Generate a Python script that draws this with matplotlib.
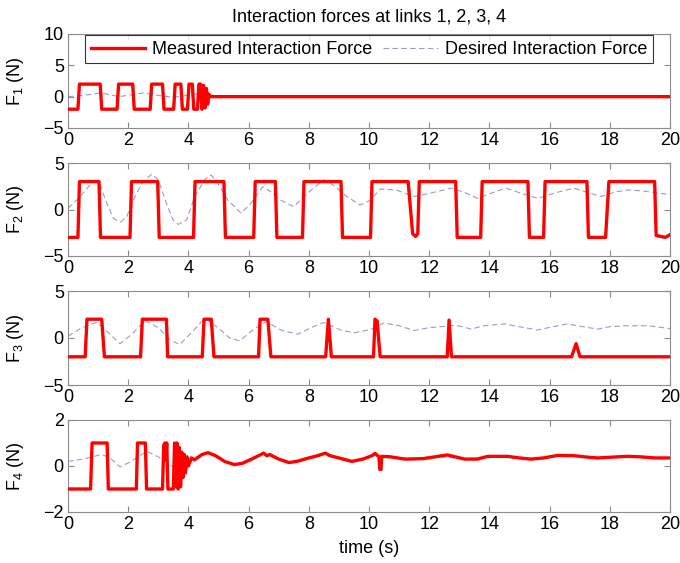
import matplotlib
matplotlib.use("Agg")
import matplotlib.pyplot as plt

plt.rcParams['font.family'] = ['Liberation Sans', 'DejaVu Sans']
plt.rcParams['mathtext.default'] = 'regular'

# ---------------- data ----------------
title = "Interaction forces at links 1, 2, 3, 4"
xlabel = "time (s)"
ylabels = [r"F$_1$ (N)", r"F$_2$ (N)", r"F$_3$ (N)", r"F$_4$ (N)"]
legend_labels = ["Measured Interaction Force", "Desired Interaction Force"]
xticks = [0, 2, 4, 6, 8, 10, 12, 14, 16, 18, 20]
yticks = [[-5, 0, 5, 10], [-5, 0, 5], [-5, 0, 5], [-2, 0, 2]]
ylims = [(-5, 10), (-5, 5), (-5, 5), (-2, 2)]

# Link 1
f1_meas_t = [0, 0.33, 0.38, 1.07, 1.12, 1.63, 1.68, 2.15, 2.2, 2.73, 2.78, 3.14, 3.19,
             3.51, 3.56, 3.75, 3.8, 3.97, 4.02, 4.13, 4.18, 4.3, 4.35, 4.4, 4.45,
             4.5, 4.55, 4.6, 4.64, 4.68, 4.72, 20]
f1_meas_v = [-2, -2, 2, 2, -2, -2, 2, 2, -2, -2, 2, 2, -2,
             -2, 2, 2, -2, -2, 2, 2, -2, -2, 2, 2, -2,
             1.8, -1.8, 1.3, -1.2, 0.4, 0, 0]
f1_des_t = [0, 0.5, 1.1, 1.7, 2.5, 3.0, 3.5, 4.4, 5.0, 5.5, 20]
f1_des_v = [0.0, 0.2, 0.6, 0.0, 0.6, 0.2, -0.1, 0.5, 0.1, 0.0, 0.0]

# Link 2
f2_meas_t = [0, 0.33, 0.38, 1.03, 1.08, 2.06, 2.11, 2.98, 3.03, 4.17, 4.22, 5.18, 5.23,
             6.17, 6.22, 6.89, 6.94, 7.79, 7.84, 9.07, 9.12, 10.05, 10.1, 11.3, 11.45,
             11.55, 11.62, 11.67, 12.88, 12.93, 13.71, 13.76, 15.28, 15.33, 15.8, 15.85,
             17.24, 17.29, 17.86, 17.97, 19.49, 19.54, 19.85, 20]
f2_meas_v = [-3, -3, 3, 3, -3, -3, 3, 3, -3, -3, 3, 3, -3,
             -3, 3, 3, -3, -3, 3, 3, -3, -3, 3, 3, -2.6,
             -2.9, -2.6, 3, 3, -3, -3, 3, 3, -3, -3, 3,
             3, -3, -3, 3, 3, -2.8, -3, -2.7]
f2_des_t = [0.0, 0.35, 0.68, 0.9, 1.07, 1.29, 1.51, 1.73, 1.95, 2.17, 2.45, 2.78, 3.0,
            3.27, 3.49, 3.66, 3.94, 4.21, 4.54, 4.76, 4.98, 5.31, 5.75, 6.08, 6.47,
            6.74, 7.07, 7.5, 7.94, 8.5, 8.83, 9.27, 9.71, 10.05, 10.37, 10.9, 11.5,
            12.1, 12.73, 13.2, 13.6, 14.1, 14.55, 15.0, 15.6, 16.2, 16.8, 17.3, 17.7,
            18.2, 18.6, 19.1, 19.5, 20]
f2_des_v = [0.13, 1.2, 2.45, 3.1, 2.6, 0.67, -0.95, -1.38, -0.77, 1.0, 2.8, 3.8, 3.2,
            0.67, -1.13, -1.6, -1.13, 1.38, 3.2, 3.7, 2.8, 1.0, -0.4, 0.67, 2.45,
            1.9, 1.0, 0.3, 1.7, 3.2, 2.6, 1.38, 0.48, 1.0, 2.2, 2.1, 1.4,
            1.8, 2.3, 1.8, 1.2, 1.8, 2.3, 1.8, 1.2, 1.8, 2.3, 1.8, 1.4,
            1.9, 2.1, 2.0, 1.8, 1.6]

# Link 3
f3_meas_t = [0, 0.57, 0.63, 1.12, 1.21, 2.41, 2.47, 3.27, 3.31, 4.46, 4.52, 4.76, 4.85,
             6.33, 6.38, 6.64, 6.74, 8.56, 8.65, 8.75, 10.15, 10.2, 10.27, 10.37,
             12.6, 12.66, 12.74, 16.73, 16.88, 17.01, 20]
f3_meas_v = [-2, -2, 2, 2, -2, -2, 2, 2, -2, -2, 2, 2, -2,
             -2, 2, 2, -2, -2, 2.0, -2, -2, 2.0, 1.8, -2,
             -2, 1.9, -2, -2, -0.6, -2, -2]
f3_des_t = [0.0, 0.46, 0.96, 1.34, 1.73, 2.12, 2.56, 3.0, 3.38, 3.71, 4.1, 4.54, 4.98,
            5.37, 5.7, 6.14, 6.58, 7.07, 7.63, 8.07, 8.5, 9.06, 9.5, 10.05, 10.5, 11.0,
            11.5, 12.0, 12.9, 13.4, 13.8, 14.5, 15.0, 15.6, 16.1, 16.6, 17.1, 17.6,
            18.0, 18.5, 19.3, 20]
f3_des_v = [0.19, 1.1, 1.67, 0.56, -0.6, 0.4, 1.85, 1.1, -0.18, -0.7, 0.56, 2.1, 1.1,
            0.0, -0.3, 0.85, 1.75, 0.85, 0.4, 1.1, 1.65, 0.85, 0.55, 0.9, 1.6, 1.3,
            0.8, 1.1, 1.35, 0.95, 1.3, 1.5, 1.2, 0.85, 1.2, 1.5, 1.2, 0.95,
            1.2, 1.3, 1.3, 1.0]

# Link 4
f4_meas_t = [0, 0.75, 0.8, 1.3, 1.34, 2.27, 2.31, 2.57, 2.61, 3.14, 3.18, 3.22, 3.25, 3.28,
             3.32, 3.5, 3.54, 3.58, 3.62, 3.66, 3.7, 3.74, 3.78, 3.82, 3.86, 3.9, 3.95,
             4.0, 4.1, 4.2, 4.45, 4.65, 4.9, 5.2, 5.53, 5.8, 6.1, 6.41, 6.5, 6.6, 6.7,
             7.0, 7.34, 7.6, 8.0, 8.3, 8.55, 8.7, 9.0, 9.43, 9.8, 10.1, 10.2, 10.33,
             10.36, 10.4, 10.42, 10.7, 11.2, 11.8, 12.3, 12.6, 12.8, 13.18, 13.6, 13.95,
             14.6, 15.0, 15.38, 15.8, 16.26, 16.8, 17.3, 17.6, 18.0, 18.58, 19.0, 19.5, 20]
f4_meas_v = [-1, -1, 1, 1, -1, -1, 1, 1, -1, -1, 0.9, 1.0, 0.3, 1.0,
             -1, -1, 1.0, -0.9, 1.0, -1, 0.8, -0.9, 0.6, -0.5, 0.5, -0.3, 0.4,
             0.0, 0.35, 0.27, 0.5, 0.58, 0.45, 0.2, 0.06, 0.12, 0.3, 0.5, 0.56, 0.45, 0.5,
             0.3, 0.15, 0.2, 0.35, 0.45, 0.56, 0.45, 0.35, 0.2, 0.3, 0.45, 0.55, 0.4,
             -0.15, -0.15, 0.42, 0.4, 0.3, 0.32, 0.42, 0.48, 0.42, 0.3, 0.3, 0.42,
             0.42, 0.35, 0.3, 0.35, 0.46, 0.45, 0.38, 0.35, 0.38, 0.42, 0.4, 0.35, 0.35]
f4_des_t = [0, 0.5, 1.12, 1.4, 1.73, 2.1, 2.61, 3.0, 3.55, 3.9, 4.2, 4.65, 5.2, 5.53,
            6.1, 6.5, 7.0, 7.34, 8.0, 8.55, 9.0, 9.43, 10.1, 10.7, 11.2, 12.3, 13.18,
            13.95, 15.38, 16.26, 17.6, 18.58, 20]
f4_des_v = [0.2, 0.3, 0.5, 0.35, -0.04, 0.2, 0.64, 0.4, -0.09, 0.1, 0.27, 0.58, 0.2, 0.06,
            0.3, 0.56, 0.3, 0.15, 0.35, 0.56, 0.35, 0.2, 0.45, 0.4, 0.3, 0.42, 0.3,
            0.42, 0.3, 0.46, 0.35, 0.42, 0.35]

meas = [(f1_meas_t, f1_meas_v), (f2_meas_t, f2_meas_v), (f3_meas_t, f3_meas_v), (f4_meas_t, f4_meas_v)]
des = [(f1_des_t, f1_des_v), (f2_des_t, f2_des_v), (f3_des_t, f3_des_v), (f4_des_t, f4_des_v)]

# ---------------- layout ----------------
W, H = 680, 563
fig = plt.figure(figsize=(W / 100, H / 100), dpi=100)
boxes = [(34, 128), (163, 256), (291, 385), (420, 512)]
left_px, right_px = 68, 670
FS = 13
spine_col = '#8c8c8c'
red = '#ff0000'
blue = '#9a9ad0'

for i, (top, bot) in enumerate(boxes):
    ax = fig.add_axes([left_px / W, 1 - bot / H, (right_px - left_px) / W, (bot - top) / H])
    l2, = ax.plot(des[i][0], des[i][1], color=blue, lw=0.8, dashes=(5, 3), zorder=2)
    l1, = ax.plot(meas[i][0], meas[i][1], color=red, lw=2.4, zorder=3)
    ax.set_xlim(0, 20)
    ax.set_ylim(*ylims[i])
    ax.set_xticks(xticks)
    ax.set_yticks(yticks[i])
    ax.tick_params(direction='in', length=4, top=True, right=True, labelsize=FS,
                   color=spine_col, pad=3)
    for s in ax.spines.values():
        s.set_color(spine_col)
        s.set_linewidth(0.8)
    ax.set_ylabel(ylabels[i], fontsize=FS)
    ax.yaxis.set_label_coords(-0.07, 0.5)
    if i == 0:
        ax.set_title(title, fontsize=FS, pad=9)
        leg = ax.legend([l1, l2], legend_labels, ncol=2, loc='upper center',
                        bbox_to_anchor=(0.5, 0.985), fontsize=FS, frameon=True,
                        fancybox=False, edgecolor='black', handlelength=3.0,
                        columnspacing=0.6, handletextpad=0.4, borderpad=0.3,
                        borderaxespad=0.0)
        leg.get_frame().set_linewidth(0.8)
    if i == 3:
        ax.set_xlabel(xlabel, fontsize=FS, labelpad=5)

fig.savefig("out.png", dpi=100)
